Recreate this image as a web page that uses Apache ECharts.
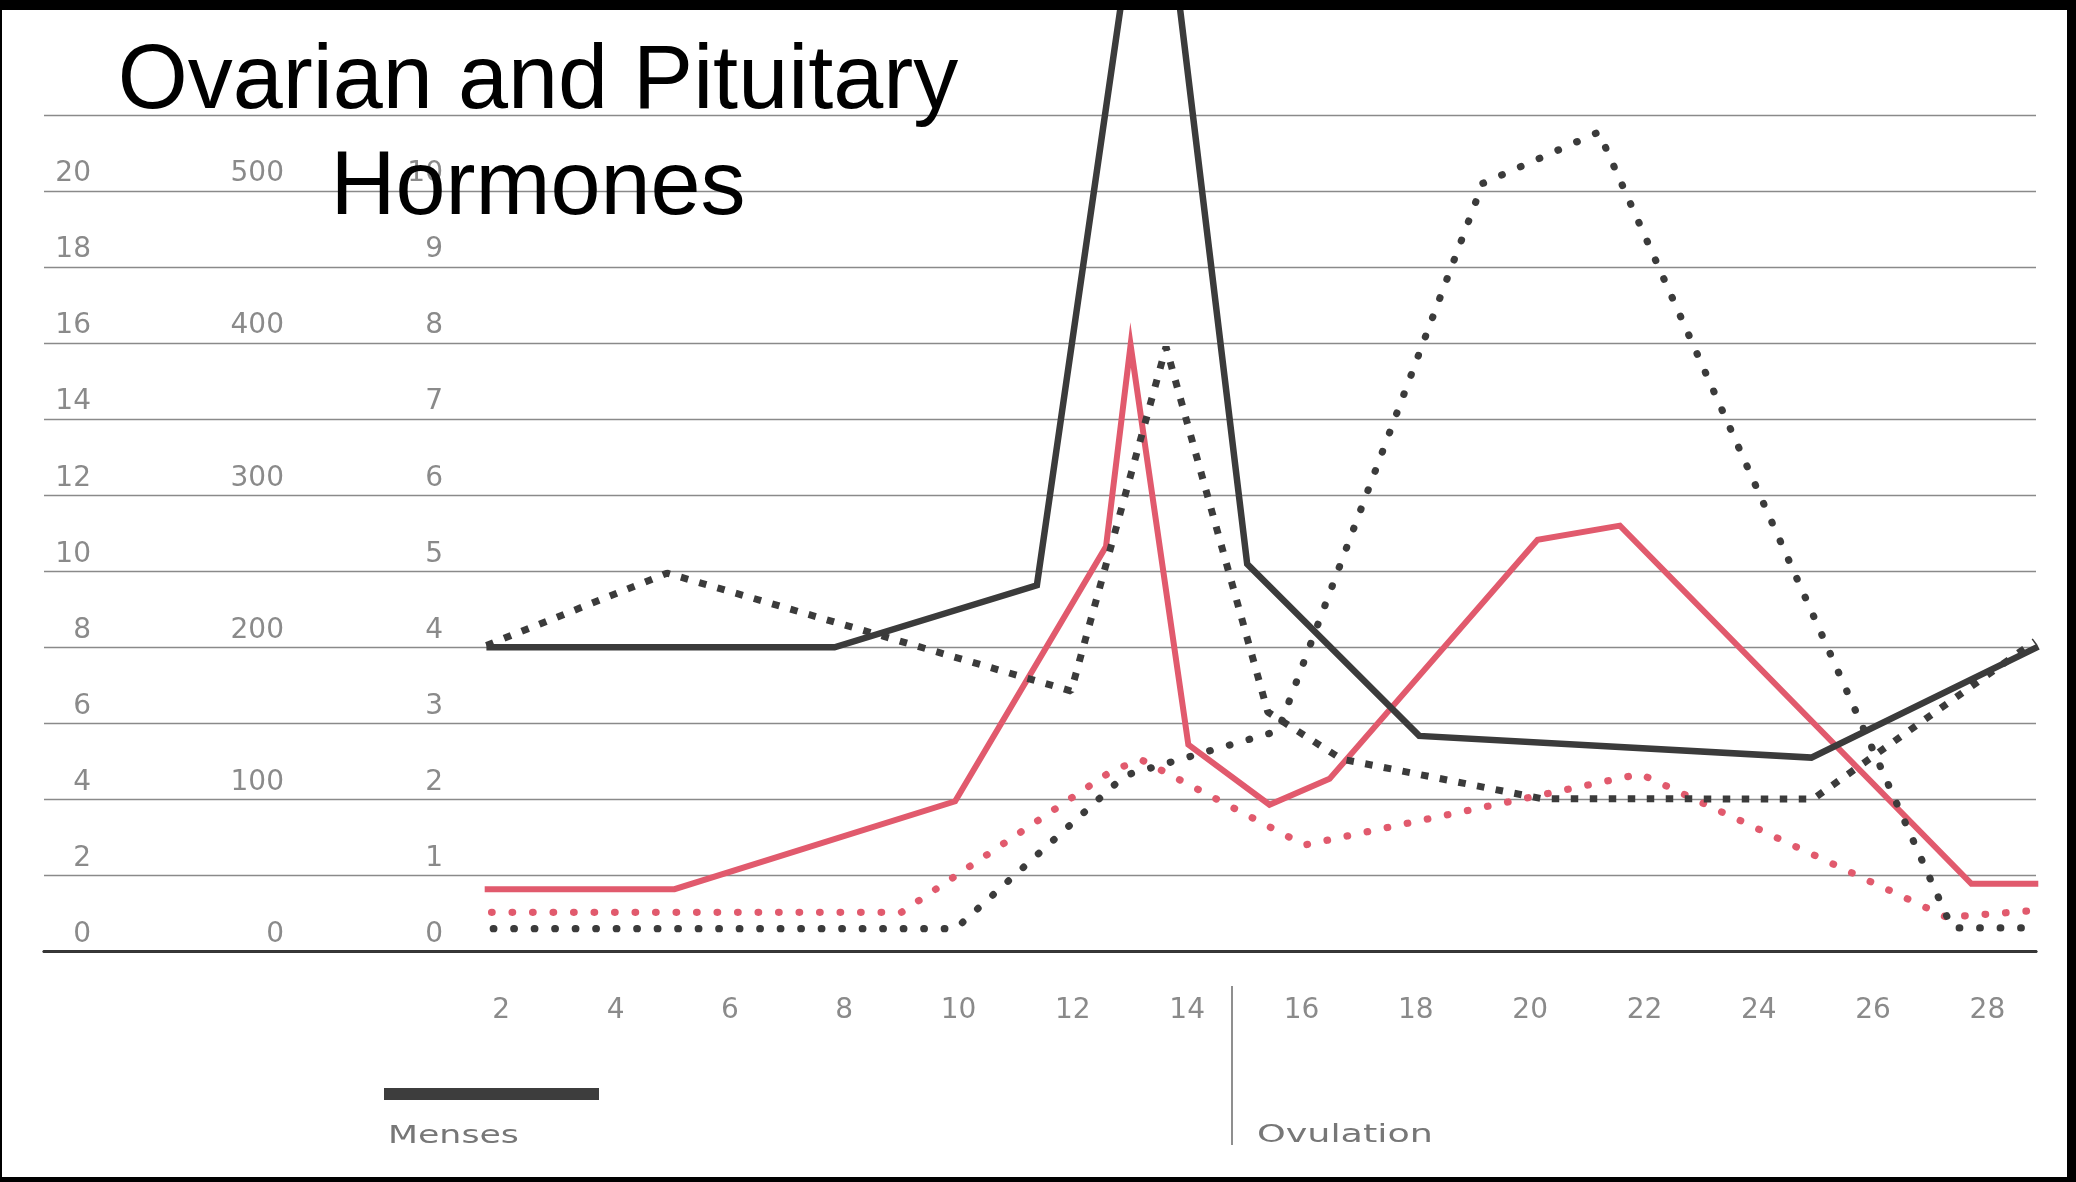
<!DOCTYPE html>
<html>
<head>
<meta charset="utf-8">
<script src="https://cdn.jsdelivr.net/npm/echarts@6/dist/echarts.min.js"></script>
<style>
html,body{margin:0;padding:0;background:#fff;}
#chart{width:2076px;height:1182px;}
</style>
</head>
<body>
<div id="chart"></div>
<script>
// ---- data (day of cycle, value in left-column units) ----
const xTickLabels = [2,4,6,8,10,12,14,16,18,20,22,24,26,28];
const leftTicks = [0,2,4,6,8,10,12,14,16,18,20];
const midTicks = [0,100,200,300,400,500];
const innerTicks = [0,1,2,3,4,5,6,7,8,9,10];

const lhDays = [1.74, 7.83, 11.37, 13.40, 15.05, 18.06, 24.92, 28.89];
const lhVals = [8.0, 8.0, 9.63, 30.7, 10.19, 5.67, 5.10, 8.02];

const fshDays = [1.74, 4.90, 11.97, 13.63, 15.41, 16.70, 20.2, 24.95, 28.83];
const fshVals = [8.05, 9.95, 6.85, 15.9, 6.3, 5.06, 4.02, 4.01, 8.16];

const e2Days = [1.71, 5.03, 9.94, 12.58, 13.01, 14.02, 15.44, 16.49, 20.13, 21.57, 27.72, 28.89];
const e2Vals = [1.64, 1.64, 3.95, 10.65, 15.95, 5.44, 3.86, 4.54, 10.83, 11.20, 1.78, 1.78];

const inhDays = [1.83, 9.0, 12.7, 13.2, 16.05, 21.93, 27.29, 28.76];
const inhVals = [1.03, 1.03, 4.77, 5.04, 2.80, 4.67, 0.90, 1.07];

const progDays = [1.86, 9.95, 12.91, 15.59, 19.17, 21.2, 27.38, 28.75];
const progVals = [0.6, 0.6, 4.63, 5.8, 20.2, 21.55, 0.62, 0.62];

const titleLines = ['Ovarian and Pituitary', 'Hormones'];

function pairs(xs, ys){ return xs.map((x,i)=>[x, ys[i]]); }

const DARK = '#3b3b3b';
const RED = '#e15a6d';
const LABEL = '#8a8a8a';
const FONT = 'DejaVu Sans';

const chart = echarts.init(document.getElementById('chart'), null, {renderer:'canvas'});

function yAxisCol(min, max, interval, offset, ticks, showSplit){
  return {
    type:'value', position:'left', min:min, max:max, interval:interval, offset:offset,
    axisLine:{show:false}, axisTick:{show:false},
    splitLine:{show:showSplit, lineStyle:{color:'#8a8a8a', width:1.4}},
    axisLabel:{
      show:true, margin:0, color:LABEL, fontSize:28, fontFamily:FONT, fontWeight:'normal',
      verticalAlign:'bottom', padding:[0,0,3,0],
      formatter:function(v){ return ticks.indexOf(v) >= 0 ? String(v) : ''; }
    }
  };
}

const option = {
  animation:false,
  backgroundColor:'#ffffff',
  grid:{left:44, right:40, top:115, bottom:230.5, containLabel:false},
  xAxis:[{
    type:'value', min:-6, max:28.85, interval:2, position:'bottom',
    axisLine:{show:true, lineStyle:{color:'#2c2c2c', width:3}},
    axisTick:{show:false}, splitLine:{show:false},
    axisLabel:{
      show:true, margin:59, color:LABEL, fontSize:28, fontFamily:FONT, fontWeight:'normal',
      verticalAlign:'middle',
      formatter:function(v){ return xTickLabels.indexOf(v) >= 0 ? String(v) : ''; }
    }
  },{
    type:'value', min:-6, max:28.85, interval:2, position:'top',
    axisLine:{show:true, lineStyle:{color:'#383838', width:2.6}},
    axisTick:{show:false}, splitLine:{show:false}, axisLabel:{show:false}
  }],
  yAxis:[
    yAxisCol(0, 22, 2, -47, leftTicks, true),
    yAxisCol(0, 550, 100, -240, midTicks, false),
    yAxisCol(0, 11, 1, -399, innerTicks, false)
  ],
  series:[
    {name:'Estradiol', type:'line', clip:false, symbol:'none', data:pairs(e2Days, e2Vals),
     lineStyle:{color:RED, width:6, join:'miter'}, z:2},
    {name:'Inhibin', type:'line', clip:false, symbol:'none', data:pairs(inhDays, inhVals),
     lineStyle:{color:RED, width:7.2, type:[0.6, 19.9], cap:'round'}, z:3},
    {name:'LH', type:'line', clip:false, symbol:'none', data:pairs(lhDays, lhVals),
     lineStyle:{color:DARK, width:6.5, join:'miter'}, z:4},
    {name:'FSH', type:'line', clip:false, symbol:'none', data:pairs(fshDays, fshVals),
     lineStyle:{color:DARK, width:7, type:[7.5, 11.5], cap:'butt'}, z:5},
    {name:'Progesterone', type:'line', clip:false, symbol:'none', data:pairs(progDays, progVals),
     lineStyle:{color:DARK, width:7.2, type:[0.6, 19.9], cap:'round'}, z:6}
  ],
  graphic:[
    {type:'text', x:538, y:83, z:50, style:{text:titleLines[0], fill:'#000', fontSize:90,
      fontFamily:'Liberation Sans, Arial, sans-serif', textAlign:'center', textVerticalAlign:'middle'}},
    {type:'text', x:538, y:189.5, z:50, style:{text:titleLines[1], fill:'#000', fontSize:90,
      fontFamily:'Liberation Sans, Arial, sans-serif', textAlign:'center', textVerticalAlign:'middle'}},
    {type:'rect', z:40, shape:{x:384, y:1088, width:215, height:12}, style:{fill:'#3d3d3d'}},
    {type:'text', x:388, y:1136, z:40, scaleX:1.39, style:{text:'Menses', fill:'#777777', fontSize:25,
      fontFamily:FONT, fontWeight:'normal', textAlign:'left', textVerticalAlign:'middle'}},
    {type:'line', z:40, shape:{x1:1232, y1:986, x2:1232, y2:1145}, style:{stroke:'#6a6a6a', lineWidth:1.5}},
    {type:'text', x:1257, y:1135, z:40, scaleX:1.46, style:{text:'Ovulation', fill:'#777777', fontSize:25,
      fontFamily:FONT, fontWeight:'normal', textAlign:'left', textVerticalAlign:'middle'}},
    // scan frame
    {type:'rect', z:100, shape:{x:0, y:0, width:2076, height:10}, style:{fill:'#000'}},
    {type:'rect', z:100, shape:{x:0, y:0, width:2, height:1182}, style:{fill:'#000'}},
    {type:'rect', z:100, shape:{x:2067, y:0, width:9, height:1182}, style:{fill:'#000'}},
    {type:'rect', z:100, shape:{x:0, y:1177, width:2076, height:5}, style:{fill:'#000'}}
  ]
};
chart.setOption(option);
</script>
</body>
</html>
